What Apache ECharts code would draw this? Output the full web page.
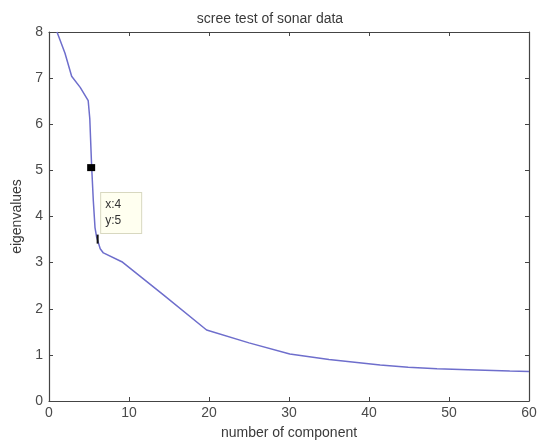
<!DOCTYPE html>
<html>
<head>
<meta charset="utf-8">
<script src="https://cdn.jsdelivr.net/npm/echarts@6/dist/echarts.min.js"></script>
<style>
  html, body { margin: 0; padding: 0; background: #fff; }
  #main { width: 540px; height: 445px; }
</style>
</head>
<body>
<div id="main"></div>
<script>
// 成分编号 / 特征值
var componentNo = [1, 2, 2.83, 3.9, 4.9, 5.1, 5.33, 5.54, 5.75, 5.96, 6.4, 6.8, 9.1, 14.3, 19.7, 25, 30.1, 35, 41.4, 44.9, 48.5, 52.4, 57.6, 60];
var eigenValues = [8.0, 7.54, 7.04, 6.8, 6.51, 6.12, 5.09, 4.34, 3.76, 3.55, 3.3, 3.21, 3.02, 2.3, 1.54, 1.26, 1.02, 0.9, 0.78, 0.73, 0.7, 0.68, 0.65, 0.64];
var xTicks = [0, 10, 20, 30, 40, 50, 60];
var yTicks = [0, 1, 2, 3, 4, 5, 6, 7, 8];
// 数据提示点
var tipPoint = [5.27, 5.06];
var tipText = ['x:4', 'y:5'];
var cursorPoint = [6.08, 3.51];

var lineData = componentNo.map(function (x, i) { return [x, eigenValues[i]]; });
var axisColor = '#444';
var fontFam = '"Liberation Sans", Arial, sans-serif';

function xAx(pos, show) {
    return {
        type: 'value', position: pos, min: xTicks[0], max: xTicks[xTicks.length - 1], interval: 10,
        name: show ? 'number of component' : '', nameLocation: 'middle', nameGap: 25,
        nameTextStyle: { color: '#3a3a3a', fontSize: 14, fontFamily: fontFam },
        axisLine: { show: true, onZero: false, lineStyle: { color: axisColor, width: 1.2 } },
        axisTick: { show: true, inside: true, length: 4, lineStyle: { color: axisColor } },
        axisLabel: { show: show, color: '#4a4a4a', fontSize: 14, fontFamily: fontFam, margin: 5 },
        splitLine: { show: false }
    };
}
function yAx(pos, show) {
    return {
        type: 'value', position: pos, min: yTicks[0], max: yTicks[yTicks.length - 1], interval: 1,
        name: show ? 'eigenvalues' : '', nameLocation: 'middle', nameGap: 23,
        nameTextStyle: { color: '#3a3a3a', fontSize: 14, fontFamily: fontFam },
        axisLine: { show: true, onZero: false, lineStyle: { color: axisColor, width: 1.2 } },
        axisTick: { show: true, inside: true, length: 4, lineStyle: { color: axisColor } },
        axisLabel: { show: show, color: '#4a4a4a', fontSize: 14, fontFamily: fontFam, margin: 6 },
        splitLine: { show: false }
    };
}

var myChart = echarts.init(document.getElementById('main'));
var option = {
    animation: false,
    backgroundColor: '#fff',
    title: {
        text: 'scree test of sonar data', left: 'center', top: 7,
        textStyle: { color: '#3a3a3a', fontSize: 14, fontWeight: 'normal', fontFamily: fontFam }
    },
    grid: { left: 49, right: 11, top: 32, bottom: 39 },
    xAxis: [xAx('bottom', true), xAx('top', false)],
    yAxis: [yAx('left', true), yAx('right', false)],
    series: [{
        type: 'line',
        data: lineData,
        showSymbol: false,
        lineStyle: { color: '#6e6ecc', width: 1.5 },
        markPoint: {
            animation: false,
            data: [{
                coord: tipPoint,
                symbol: 'rect', symbolSize: [8, 7],
                itemStyle: { color: '#000' },
                label: {
                    show: true,
                    position: [14, 29],
                    formatter: tipText.join('\n'),
                    color: '#333', fontSize: 12, fontFamily: fontFam, lineHeight: 16,
                    backgroundColor: '#fffff0', borderColor: '#d8d8c0', borderWidth: 1,
                    padding: [4, 20, 4, 4], align: 'left', verticalAlign: 'top'
                }
            }, {
                coord: cursorPoint,
                symbol: 'rect', symbolSize: [2, 9],
                itemStyle: { color: '#111' },
                label: { show: false }
            }]
        }
    }]
};
option && myChart.setOption(option);
</script>
</body>
</html>
